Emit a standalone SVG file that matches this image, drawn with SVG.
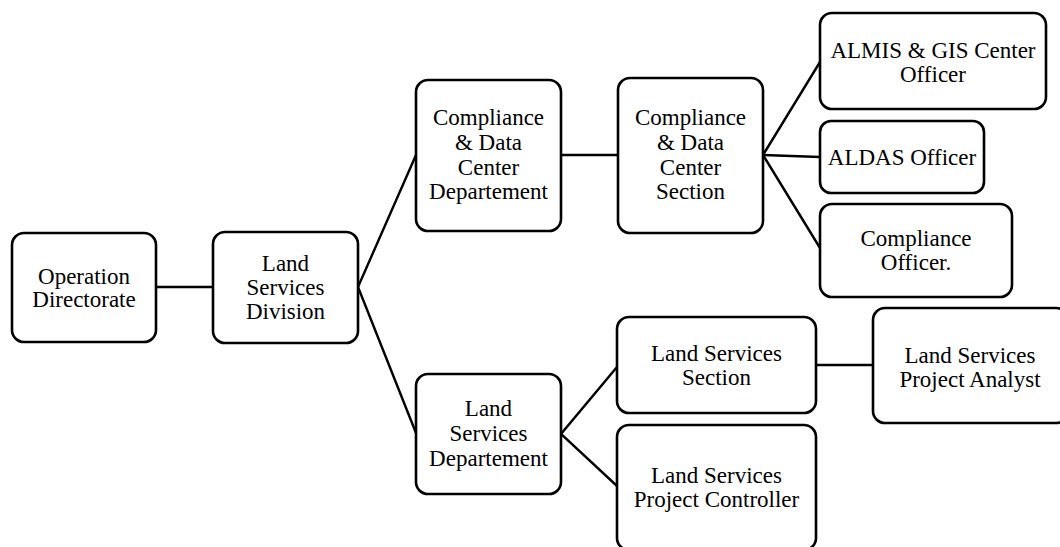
<svg xmlns="http://www.w3.org/2000/svg" width="1060" height="547" viewBox="0 0 1060 547" font-family="Liberation Serif, Times New Roman, serif">
<style>
.box{fill:#fff;stroke:#000;stroke-width:2.6}
.ln{stroke:#000;stroke-width:2.4;fill:none}
text{font-size:23px;fill:#000;text-anchor:middle}
</style>
<rect width="1060" height="547" fill="#fff"/>
<g id="connectors">
<line class="ln" x1="156" y1="287" x2="213" y2="287"/>
<polyline class="ln" points="416,155 358,287 416,433"/>
<line class="ln" x1="561" y1="155" x2="618" y2="155"/>
<polyline class="ln" points="820,62 763,155 820,248"/>
<line class="ln" x1="763" y1="155" x2="820" y2="157"/>
<polyline class="ln" points="617,367 561,434 617,486"/>
<line class="ln" x1="816" y1="365" x2="873" y2="365"/>
</g>
<g id="operation-directorate">
<rect class="box" x="12" y="233" width="144" height="109" rx="12"/>
<text x="84" y="284">Operation</text>
<text x="84" y="307">Directorate</text>
</g>
<g id="land-services-division">
<rect class="box" x="213" y="232" width="145" height="111" rx="12"/>
<text x="285.5" y="271">Land</text>
<text x="285.5" y="295">Services</text>
<text x="285.5" y="319">Division</text>
</g>
<g id="compliance-dept">
<rect class="box" x="416" y="80" width="145" height="151" rx="12"/>
<text x="488.5" y="125">Compliance</text>
<text x="488.5" y="150">&amp; Data</text>
<text x="488.5" y="175">Center</text>
<text x="488.5" y="199">Departement</text>
</g>
<g id="compliance-section">
<rect class="box" x="618" y="78" width="145" height="155" rx="12"/>
<text x="690.5" y="125">Compliance</text>
<text x="690.5" y="150">&amp; Data</text>
<text x="690.5" y="175">Center</text>
<text x="690.5" y="199">Section</text>
</g>
<g id="almis-officer">
<rect class="box" x="820" y="13" width="226" height="96" rx="12"/>
<text x="933" y="58">ALMIS &amp; GIS Center</text>
<text x="933" y="82">Officer</text>
</g>
<g id="aldas-officer">
<rect class="box" x="820" y="121" width="164" height="72" rx="11"/>
<text x="902" y="165">ALDAS Officer</text>
</g>
<g id="compliance-officer">
<rect class="box" x="820" y="204" width="192" height="93" rx="12"/>
<text x="916" y="246">Compliance</text>
<text x="916" y="270">Officer.</text>
</g>
<g id="land-services-dept">
<rect class="box" x="416" y="374" width="145" height="120" rx="12"/>
<text x="488.5" y="416">Land</text>
<text x="488.5" y="441">Services</text>
<text x="488.5" y="466">Departement</text>
</g>
<g id="land-services-section">
<rect class="box" x="617" y="317" width="199" height="96" rx="12"/>
<text x="716.5" y="361">Land Services</text>
<text x="716.5" y="385">Section</text>
</g>
<g id="project-controller">
<rect class="box" x="617" y="425" width="199" height="125" rx="12"/>
<text x="716.5" y="483">Land Services</text>
<text x="716.5" y="507">Project Controller</text>
</g>
<g id="project-analyst">
<rect class="box" x="873" y="308" width="195" height="115" rx="12"/>
<text x="970" y="363">Land Services</text>
<text x="970" y="387">Project Analyst</text>
</g>
</svg>
